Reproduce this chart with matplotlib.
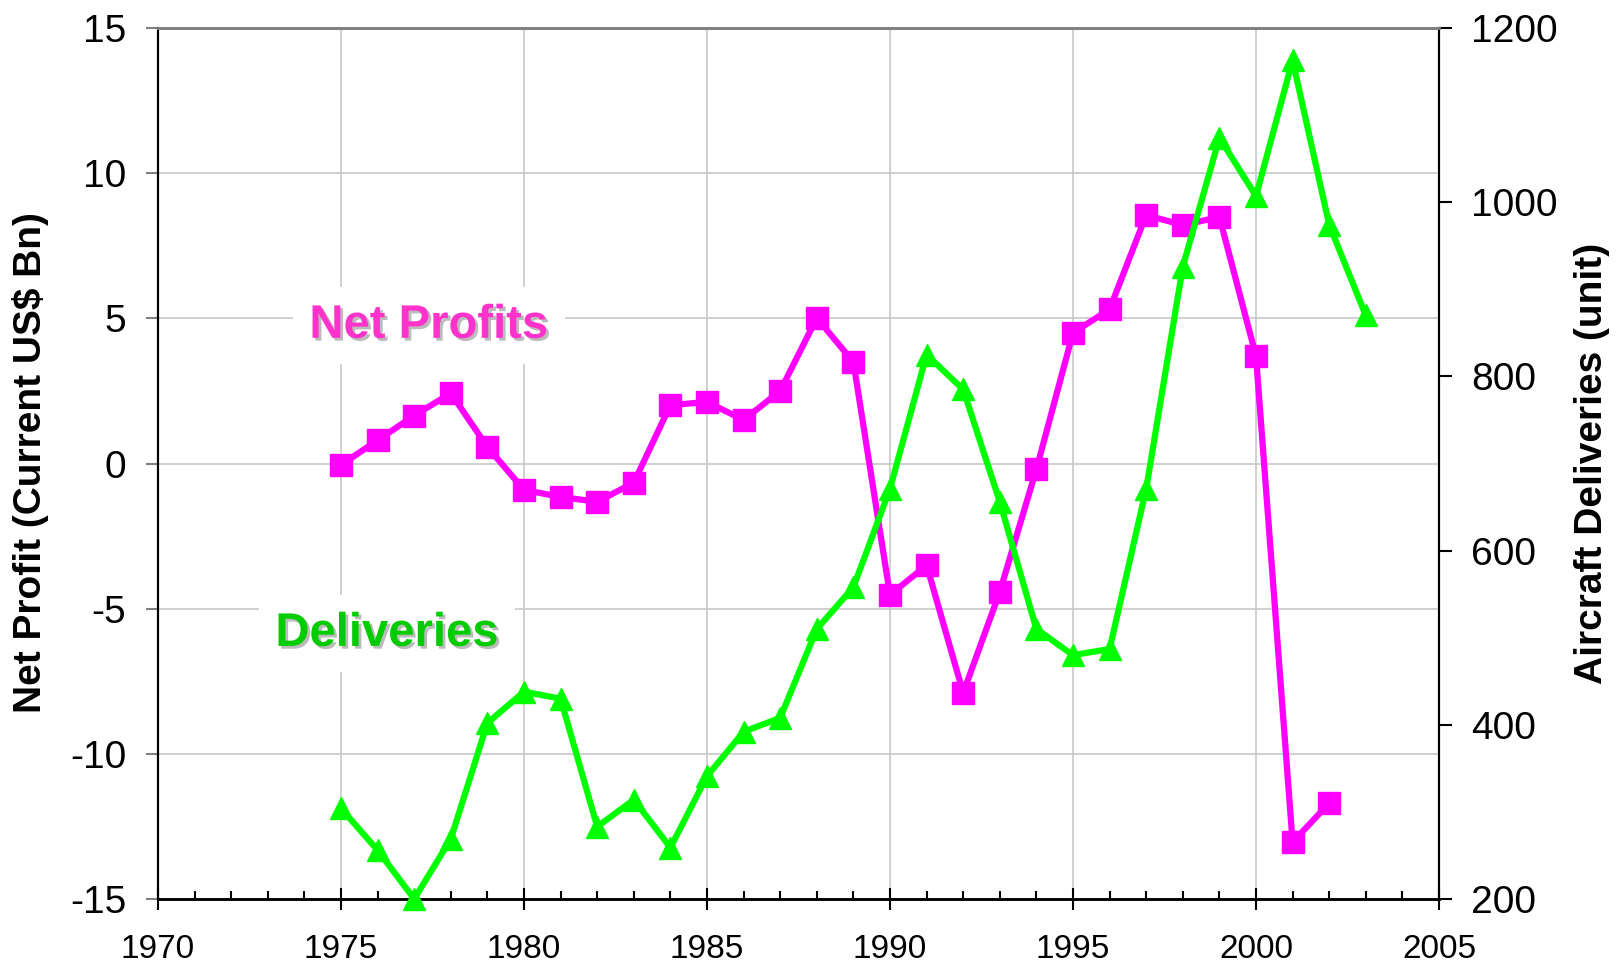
import matplotlib
matplotlib.use('Agg')
from matplotlib import pyplot as plt
from matplotlib.ticker import MultipleLocator
import matplotlib.patheffects as pe

plt.rcParams['font.family'] = ['Liberation Sans', 'DejaVu Sans']
plt.rcParams['axes.unicode_minus'] = False

# Net profits (left axis, US$ Bn)
years_profit = list(range(1975, 2003))
net_profit = [-0.05, 0.8, 1.65, 2.42, 0.57, -0.91, -1.15, -1.32, -0.66, 2.01,
              2.12, 1.5, 2.5, 5.01, 3.5, -4.53, -3.5, -7.9, -4.42, -0.2,
              4.5, 5.31, 8.56, 8.21, 8.49, 3.7, -13.04, -11.7]

# Aircraft deliveries (right axis, units)
years_deliv = list(range(1975, 2004))
deliveries = [304, 256, 200, 269, 402, 438, 430, 283, 314, 259,
              341, 392, 408, 510, 558, 671, 825, 785, 656, 510,
              480, 487, 671, 926, 1074, 1007, 1163, 974, 870]

magenta = '#FF00FF'
green = '#00FF00'

fig = plt.figure(figsize=(16.16, 9.65), dpi=100)
ax1 = fig.add_axes([158/1616, 1-899/965, 1281/1616, 871/965])
ax2 = ax1.twinx()

ax1.plot(years_profit, net_profit, color=magenta, lw=4.5, marker='s', ms=16,
         mec=magenta, clip_on=False, zorder=3)
ax2.plot(years_deliv, deliveries, color=green, lw=4.5, marker='^', ms=16,
         mec=green, clip_on=False, zorder=3)

ax1.set_xlim(1970, 2005)
ax1.set_ylim(-15, 15)
ax2.set_ylim(200, 1200)
ax1.xaxis.set_major_locator(MultipleLocator(5))
ax1.xaxis.set_minor_locator(MultipleLocator(1))
ax1.yaxis.set_major_locator(MultipleLocator(5))
ax2.yaxis.set_major_locator(MultipleLocator(200))

ax1.grid(True, which='major', color='#C8C8C8', lw=1.2, zorder=0)
ax1.set_axisbelow(True)

ax1.tick_params(axis='x', which='major', direction='inout', length=16, width=1.5,
                labelsize=24, pad=17, colors='black')
ax1.tick_params(axis='x', which='minor', direction='in', length=6, width=1.5)
ax1.tick_params(axis='y', direction='out', length=9, width=1.5, labelsize=28,
                pad=14, color='#808080')
ax2.tick_params(axis='y', direction='out', length=9, width=1.5, labelsize=28,
                pad=14)

for ax in (ax1, ax2):
    ax.spines['top'].set_color('#808080')
    ax.spines['top'].set_linewidth(2)
    ax.spines['left'].set_linewidth(1.5)
    ax.spines['bottom'].set_linewidth(1.8)
    ax.spines['right'].set_linewidth(1.5)

fig.text(31/1616, 1-463/965, 'Net Profit (Current US$ Bn)', fontsize=28,
         fontweight='bold', rotation=90, ha='center', va='center')
fig.text(1592/1616, 1-463/965, 'Aircraft Deliveries (unit)', fontsize=28,
         fontweight='bold', rotation=90, ha='center', va='center')

shadow = [pe.withSimplePatchShadow(offset=(2, -2), shadow_rgbFace='#AAAAAA', alpha=0.8)]
ax1.text(1977.4, 4.74, 'Net Profits', color='#FF33CC', fontsize=34, fontweight='bold',
         ha='center', va='center', zorder=4, path_effects=shadow,
         bbox=dict(facecolor='white', edgecolor='none', pad=12))
ax1.text(1976.26, -5.87, 'Deliveries', color='#00CC00', fontsize=34, fontweight='bold',
         ha='center', va='center', zorder=4, path_effects=shadow,
         bbox=dict(facecolor='white', edgecolor='none', pad=12))

plt.savefig('out.png', dpi=100)
